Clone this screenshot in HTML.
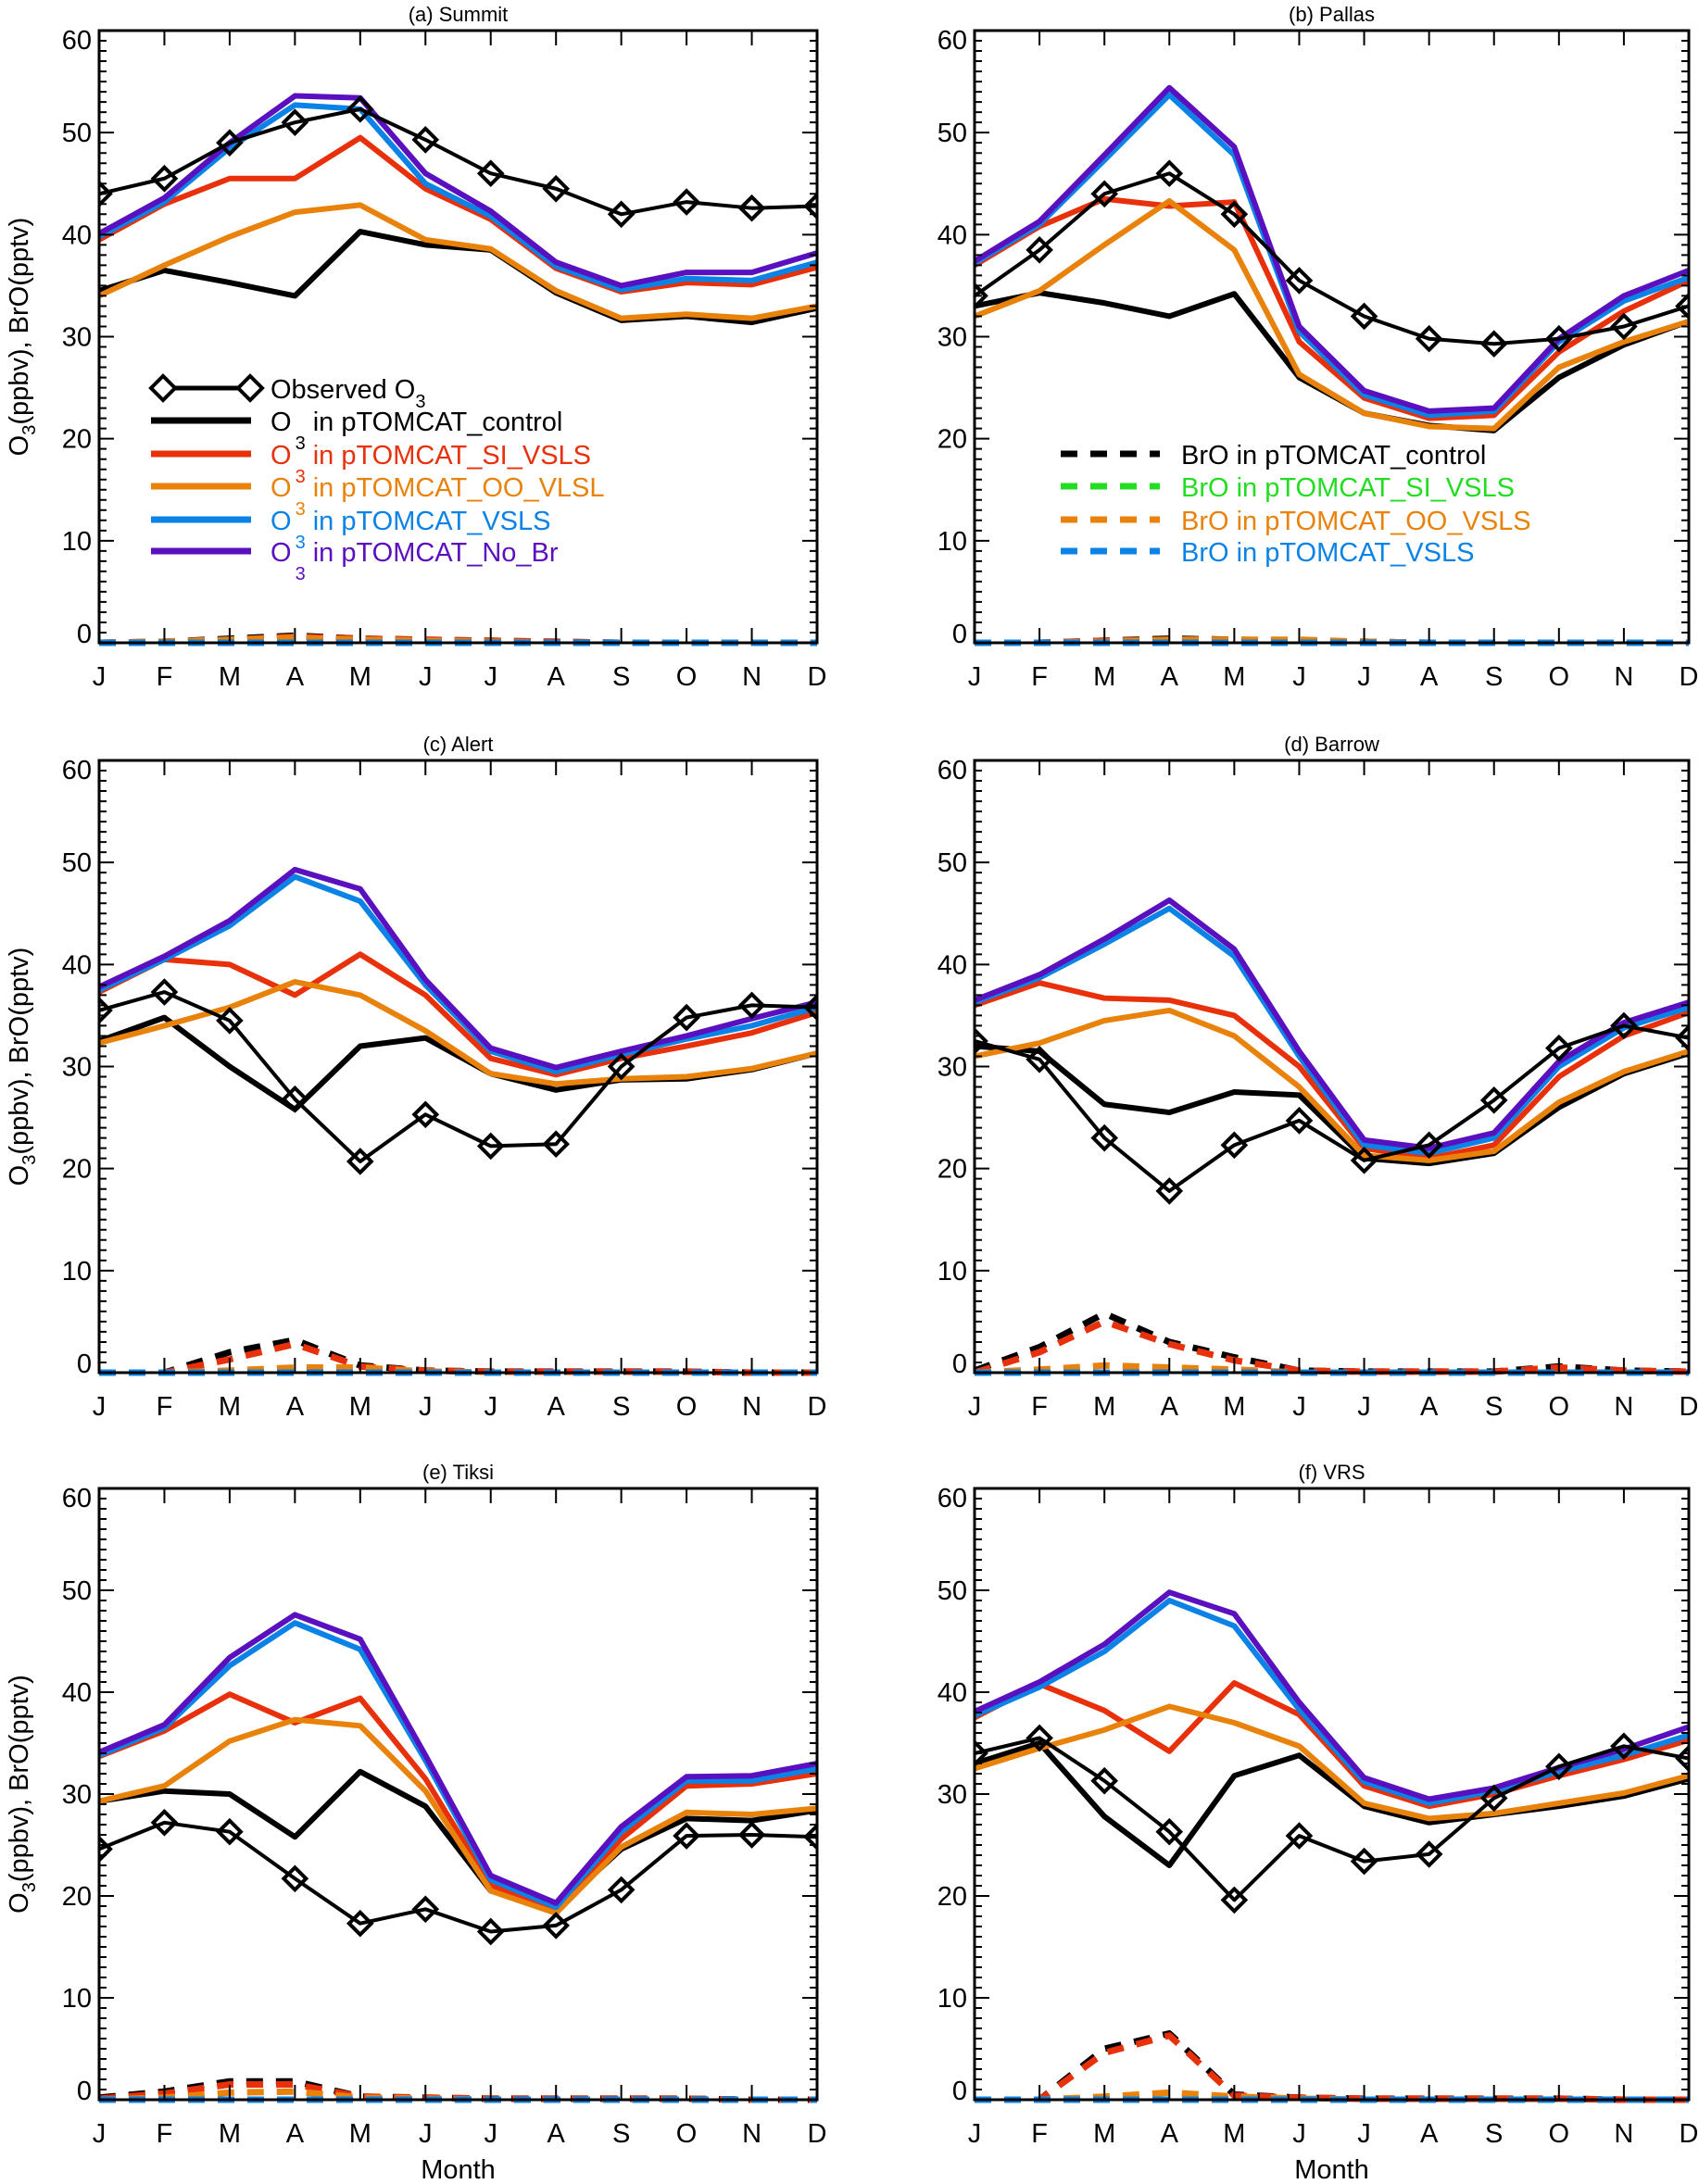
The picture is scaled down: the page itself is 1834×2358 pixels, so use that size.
<!DOCTYPE html>
<html><head><meta charset="utf-8"><style>
html,body{margin:0;padding:0;background:#fff;}
svg{display:block;font-family:"Liberation Sans",sans-serif;}
</style></head><body>
<svg id="chart" width="1834" height="2358" viewBox="0 0 1834 2358" xmlns="http://www.w3.org/2000/svg"></svg>
<script>
const months = ["J","F","M","A","M","J","J","A","S","O","N","D"];
const yTicks = [0,10,20,30,40,50,60];
const panelTitles = ["(a) Summit","(b) Pallas","(c) Alert","(d) Barrow","(e) Tiksi","(f) VRS"];
// Observed O3
const obsA=[44,45.5,49,51,52.3,49.3,46,44.5,42,43.2,42.6,42.8];
const obsB=[34,38.5,44,46,42,35.5,32,29.8,29.3,29.8,31,33];
const obsC=[35.5,37.3,34.5,26.8,20.7,25.3,22.2,22.4,30,34.8,36,35.8];
const obsD=[32.5,30.7,23,17.8,22.3,24.7,20.8,22.3,26.7,31.8,34,32.8];
const obsE=[24.6,27.2,26.3,21.7,17.3,18.7,16.5,17.1,20.6,25.9,26,25.8];
const obsF=[34,35.5,31.3,26.3,19.6,25.9,23.4,24.1,29.6,32.7,34.7,33.5];
// O3 control
const ctlA=[34.5,36.5,35.3,34,40.3,39,38.5,34.3,31.6,32,31.4,32.8];
const ctlB=[33,34.3,33.3,32,34.2,26,22.5,21.3,20.8,26,29.2,31.5];
const ctlC=[32.5,34.8,30,25.8,32,32.8,29.3,27.7,28.7,28.8,29.7,31.3];
const ctlD=[32,31.5,26.3,25.5,27.5,27.2,21,20.5,21.5,26,29.3,31.3];
const ctlE=[29.3,30.3,30,25.8,32.2,28.8,20.5,18.7,24.6,27.6,27.4,28.4];
const ctlF=[33,35,27.8,23,31.8,33.8,28.8,27.2,28,28.8,29.8,31.5];
// O3 SI_VSLS
const siA=[39.5,43,45.5,45.5,49.5,44.5,41.5,36.7,34.4,35.3,35.1,36.8];
const siB=[37,40.8,43.5,42.8,43.2,29.5,24,22,22.3,28.5,32.5,35.5];
const siC=[37.3,40.5,40,37,41,37,30.8,29.2,30.8,32,33.3,35.3];
const siD=[36,38.2,36.7,36.5,35,30,22,21,22.3,29,33,35.3];
const siE=[33.7,36.2,39.8,37,39.4,31.5,21,18.8,25.6,30.8,31,32];
const siF=[37.5,40.8,38.2,34.2,40.9,37.8,30.8,28.8,30,31.8,33.4,35.3];
// O3 OO_VSLS
const ooA=[34,37,39.8,42.2,42.9,39.5,38.6,34.5,31.8,32.2,31.8,33];
const ooB=[32,34.5,39,43.3,38.5,26.3,22.5,21.2,21,27,29.5,31.5];
const ooC=[32.3,34,35.8,38.3,37,33.5,29.3,28.3,28.8,29,29.8,31.3];
const ooD=[31,32.3,34.5,35.5,33,28,21.3,20.8,21.7,26.5,29.5,31.5];
const ooE=[29.3,30.8,35.2,37.3,36.7,30.3,20.5,18.3,24.8,28.2,28,28.6];
const ooF=[32.5,34.5,36.3,38.6,37,34.7,29.1,27.6,28.1,29.1,30.1,31.8];
// O3 VSLS
const vsA=[39.8,43.2,48.5,52.7,52.3,45,41.8,36.9,34.6,35.7,35.5,37.3];
const vsB=[37.2,41,47.3,53.7,47.8,30.5,24.3,22.3,22.7,29.5,33.5,35.8];
const vsC=[37.5,40.5,43.8,48.6,46.2,38,31.5,29.5,31.2,32.7,34,35.8];
const vsD=[36.3,38.7,42,45.5,40.8,31,22.3,21.5,23,30,33.8,35.8];
const vsE=[33.8,36.5,42.6,46.8,44.2,33.3,21.6,18.9,26.3,31.3,31.3,32.5];
const vsF=[37.7,40.5,44,49,46.5,38.3,31.2,29.1,30.3,32.2,33.8,35.8];
// O3 No_Br
const nbA=[40.1,43.6,49,53.6,53.4,46,42.3,37.3,35,36.3,36.3,38.2];
const nbB=[37.4,41.3,47.8,54.4,48.6,31,24.7,22.7,23,29.8,34,36.5];
const nbC=[37.8,40.8,44.3,49.3,47.4,38.5,31.8,29.9,31.5,33,34.7,36.3];
const nbD=[36.5,39,42.5,46.3,41.5,31.5,22.8,22,23.5,30.5,34.3,36.3];
const nbE=[34.1,36.8,43.4,47.6,45.2,33.8,22,19.3,26.8,31.7,31.8,33];
const nbF=[38.1,41,44.7,49.8,47.7,39,31.6,29.5,30.6,32.6,34.4,36.6];
// BrO control
const brCtlA=[0,0.1,0.4,0.7,0.4,0.3,0.2,0.1,0,0,0,0];
const brCtlB=[0,0,0.2,0.4,0.3,0.2,0.1,0,0,0,0,0];
const brCtlC=[0,0,2,3.2,0.7,0.2,0.1,0.1,0.1,0.1,0,0];
const brCtlD=[0.2,2.5,5.8,3,1.5,0.2,0.1,0.1,0.1,0.6,0.2,0.1];
const brCtlE=[0.2,0.8,1.8,1.8,0.3,0.2,0.1,0.1,0.1,0.1,0,0];
const brCtlF=[0,0,5,6.5,0.5,0.2,0.1,0.1,0.1,0.1,0,0];
// BrO SI_VSLS
const brSiA=[0,0.1,0.3,0.6,0.4,0.3,0.2,0.1,0,0,0,0];
const brSiB=[0,0,0.2,0.3,0.3,0.2,0.1,0,0,0,0,0];
const brSiC=[0,0,1.3,2.8,0.6,0.2,0.1,0.1,0.1,0.1,0,0];
const brSiD=[0,2,5,2.8,1.2,0.2,0.1,0.1,0.1,0.5,0.2,0.1];
const brSiE=[0.1,0.6,1.5,1.5,0.3,0.2,0.1,0.1,0.1,0.1,0,0];
const brSiF=[0,0,4.6,6.3,0.4,0.2,0.1,0.1,0.1,0.1,0,0];
// BrO OO_VSLS
const brOoA=[0,0.1,0.3,0.5,0.3,0.2,0.1,0,0,0,0,0];
const brOoB=[0,0,0.1,0.3,0.3,0.3,0.1,0,0,0,0,0];
const brOoC=[0,0,0.2,0.5,0.5,0.1,0,0,0,0,0,0];
const brOoD=[0,0.3,0.7,0.5,0.3,0,0,0,0,0,0,0];
const brOoE=[0,0.2,0.7,0.8,0.2,0.1,0,0,0,0,0,0];
const brOoF=[0,0,0.3,0.7,0.3,0.1,0,0,0,0,0,0];
// BrO VSLS
const brVsA=[0,0,0,0,0,0,0,0,0,0,0,0];
const brVsB=[0,0,0,0,0,0,0,0,0,0,0,0];
const brVsC=[0,0,0,0,0,0,0,0,0,0,0,0];
const brVsD=[0,0,0,0,0,0,0,0,0,0,0,0];
const brVsE=[0,0,0,0,0,0,0,0,0,0,0,0];
const brVsF=[0,0,0,0,0,0,0,0,0,0,0,0];

const panels=[
 {t:panelTitles[0],obs:obsA,ctl:ctlA,si:siA,oo:ooA,vs:vsA,nb:nbA,bc:brCtlA,bs:brSiA,bo:brOoA,bv:brVsA},
 {t:panelTitles[1],obs:obsB,ctl:ctlB,si:siB,oo:ooB,vs:vsB,nb:nbB,bc:brCtlB,bs:brSiB,bo:brOoB,bv:brVsB},
 {t:panelTitles[2],obs:obsC,ctl:ctlC,si:siC,oo:ooC,vs:vsC,nb:nbC,bc:brCtlC,bs:brSiC,bo:brOoC,bv:brVsC},
 {t:panelTitles[3],obs:obsD,ctl:ctlD,si:siD,oo:ooD,vs:vsD,nb:nbD,bc:brCtlD,bs:brSiD,bo:brOoD,bv:brVsD},
 {t:panelTitles[4],obs:obsE,ctl:ctlE,si:siE,oo:ooE,vs:vsE,nb:nbE,bc:brCtlE,bs:brSiE,bo:brOoE,bv:brVsE},
 {t:panelTitles[5],obs:obsF,ctl:ctlF,si:siF,oo:ooF,vs:vsF,nb:nbF,bc:brCtlF,bs:brSiF,bo:brOoF,bv:brVsF}
];
const C={k:"#000",r:"#e8300a",o:"#e8820a",b:"#0a82e6",p:"#5a10be",g:"#22dd22"};
const svg=document.getElementById('chart');
const NS="http://www.w3.org/2000/svg";
function mk(tag,attrs,parent){const e=document.createElementNS(NS,tag);for(const k in attrs)e.setAttribute(k,attrs[k]);(parent||svg).appendChild(e);return e;}
const cols=[[107,882],[1052,1823]];
const rows=[[33,694],[821,1482],[1607,2267]];
const YMIN=0,YMAX=60;
const defs=mk('defs',{});

panels.forEach((P,i)=>{
  const [L,R]=cols[i%2],[T,B]=rows[Math.floor(i/2)];
  const cp=mk('clipPath',{id:'clip'+i},defs);
  mk('rect',{x:L,y:T-20,width:R-L,height:B-T+26},cp);
  const g=mk('g',{});
  
  
  const dg=mk('g',{'clip-path':`url(#clip${i})`},g);
  
  
  const xs=m=>L+(R-L)*m/11;
  const ys=v=>B-(B-T)*(v-YMIN)/(YMAX-YMIN);
  const ti=mk('text',{x:(L+R)/2,y:T-10,'font-size':22,'text-anchor':'middle'},g);ti.textContent=P.t;
  
  
  let d="";
  for(let v=0;v<=60;v++){const y=ys(v);const len=v%10===0?16:8;d+=`M${L},${y}h${len}M${R},${y}h${-len}`;}
  months.forEach((m,k)=>{const x=xs(k);d+=`M${x},${B}v-16M${x},${T}v16`;});
  const tk=mk('path',{d:d,stroke:'#000','stroke-width':2,fill:'none'},g);
  
  
  yTicks.forEach(v=>{let y=ys(v)+10;if(v===0)y-=10;if(v===60)y+=10;
    const t=mk('text',{x:L-8,y:y,'font-size':29,'text-anchor':'end'},g);t.textContent=v;
    
    });
  months.forEach((m,k)=>{const t=mk('text',{x:xs(k),y:B+46,'font-size':29,'text-anchor':'middle'},g);t.textContent=m;
    
    });
  const line=(arr,col,w,name,dash)=>{const p=mk('path',{d:arr.map((v,k)=>(k?'L':'M')+xs(k)+','+ys(v)).join(''),stroke:col,'stroke-width':w,fill:'none','stroke-linejoin':'round'},dg);
    if(dash)p.setAttribute('stroke-dasharray',dash);
    
    };
  line(P.ctl,C.k,6,'o3-control-line');
  line(P.si,C.r,6,'o3-si-vsls-line');
  line(P.oo,C.o,6,'o3-oo-vsls-line');
  line(P.vs,C.b,6,'o3-vsls-line');
  line(P.nb,C.p,6,'o3-no-br-line');
  line(P.bc,C.k,7,'bro-control-line','18 14');
  line(P.bs,C.r,7,'bro-si-vsls-line','18 14');
  line(P.bo,C.o,7,'bro-oo-vsls-line','18 14');
  line(P.bv,C.b,7,'bro-vsls-line','18 14');
  line(P.obs,C.k,4,'observed-o3-line');
  P.obs.forEach((v,k)=>{const x=xs(k),y=ys(v);const dm=mk('path',{d:`M${x-12},${y}L${x},${y-12}L${x+12},${y}L${x},${y+12}Z`,stroke:'#000','stroke-width':4,fill:'none'},dg);
    
    });
  const fr=mk('rect',{x:L,y:T,width:R-L,height:B-T,fill:'none',stroke:'#000','stroke-width':3},g);
  
  
  if(i%2===0){
    const yl=mk('text',{transform:`translate(30,${(T+B)/2}) rotate(-90)`,'font-size':29,'text-anchor':'middle'},g);
    yl.innerHTML='O<tspan font-size="20" dy="8">3</tspan><tspan dy="-8">(ppbv),  BrO(pptv)</tspan>';
    
    
  }
  if(i>=4){const ml=mk('text',{x:(L+R)/2,y:2352,'font-size':29,'text-anchor':'middle'},g);ml.textContent='Month';
    
    }
});

const lg=mk('g',{});


let y0=419;
mk('path',{d:`M176,${y0}H270`,stroke:'#000','stroke-width':5},lg);
[176,270].forEach(x=>mk('path',{d:`M${x-13},${y0}L${x},${y0-13}L${x+13},${y0}L${x},${y0+13}Z`,stroke:'#000','stroke-width':4,fill:'#fff'},lg));
let t0=mk('text',{x:292,y:y0+11,'font-size':29},lg);t0.innerHTML='Observed  O<tspan font-size="20" dy="10">3</tspan>';
const ent=[[C.k,'pTOMCAT_control',454],[C.r,'pTOMCAT_SI_VSLS',490],[C.o,'pTOMCAT_OO_VLSL',525],[C.b,'pTOMCAT_VSLS',561],[C.p,'pTOMCAT_No_Br',595]];
ent.forEach(e=>{mk('path',{d:`M163,${e[2]}H271`,stroke:e[0],'stroke-width':7},lg);
  const t=mk('text',{x:292,y:e[2]+11,'font-size':29,fill:e[0]},lg);
  t.innerHTML=`O<tspan font-size="20" dx="4" dy="20">3</tspan><tspan dy="-20" dx="8">in  ${e[1]}</tspan>`;
  
  });
const lg2=mk('g',{});


const ent2=[[C.k,'BrO  in  pTOMCAT_control',490],[C.g,'BrO  in  pTOMCAT_SI_VSLS',525],[C.o,'BrO  in  pTOMCAT_OO_VSLS',561],[C.b,'BrO  in  pTOMCAT_VSLS',595]];
ent2.forEach(e=>{mk('path',{d:`M1145,${e[2]}H1252`,stroke:e[0],'stroke-width':7,'stroke-dasharray':'18 14'},lg2);
  const t=mk('text',{x:1275,y:e[2]+11,'font-size':29,fill:e[0]},lg2);t.textContent=e[1];
  
  });
</script>
</body></html>
